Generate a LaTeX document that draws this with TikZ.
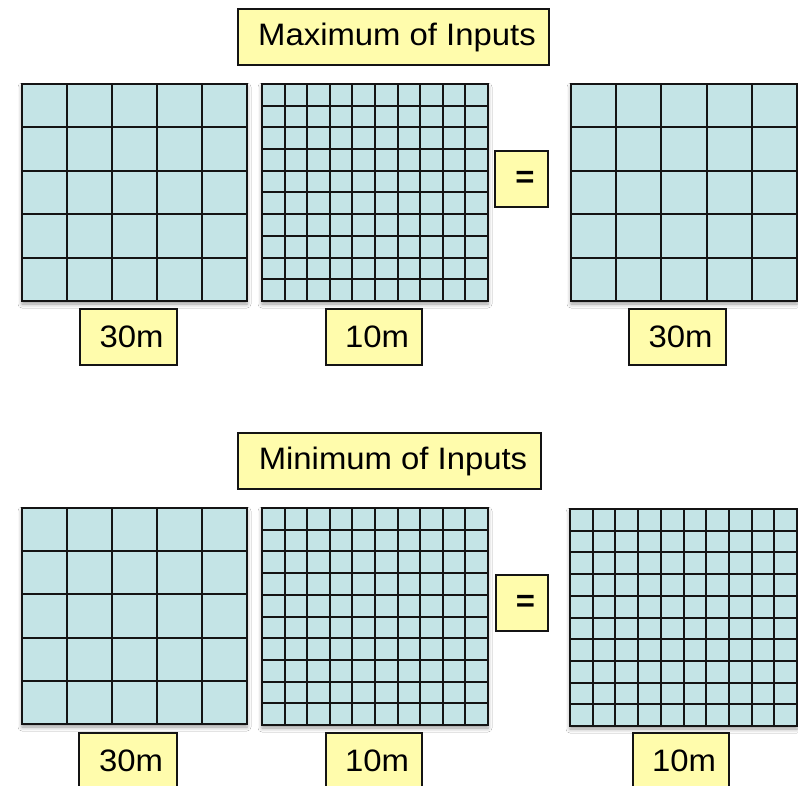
\documentclass[tikz,border=0pt]{standalone}
\usepackage{fontspec}
\setmainfont{Liberation Sans}[FakeStretch=1.06]
\usetikzlibrary{shadows.blur}
\definecolor{cellfill}{RGB}{196,228,230}
\definecolor{labfill}{RGB}{255,252,172}
\definecolor{edgecol}{RGB}{20,20,20}
\tikzset{
  gridbox/.style={fill=cellfill, draw=edgecol, line width=2pt,
    blur shadow={shadow xshift=0pt, shadow yshift=-3pt, shadow blur radius=4pt, shadow opacity=40}},
  gridline/.style={draw=edgecol, line width=2pt},
  labelbox/.style={draw=edgecol, fill=labfill, line width=1.5pt, inner sep=0pt,
    font=\fontsize{31}{31}\selectfont, text=black},
}
\newcommand\cellgrid[5]{%
  \path[gridbox] (#1,#2) rectangle (#3,#4);
  \foreach \k in {1,...,\numexpr#5-1\relax}{%
    \draw[gridline] ({#1+(#3-#1)*\k/#5},#2) -- ({#1+(#3-#1)*\k/#5},#4);
    \draw[gridline] (#1,{#2+(#4-#2)*\k/#5}) -- (#3,{#2+(#4-#2)*\k/#5});
  }%
  \draw[gridline] (#1,#2) rectangle (#3,#4);
}
\begin{document}
\begin{tikzpicture}[x=1pt,y=-1pt]
\clip (0,0) rectangle (798,786);
\fill[white] (0,0) rectangle (798,786);

% ---------- top: maximum ----------
\node[labelbox, minimum width=311pt, minimum height=56pt] (maxtitle) at (393.5,37) {\hspace*{7pt}Maximum of Inputs};
\cellgrid{22}{84}{247}{301}{5}
\cellgrid{262}{84}{488}{301}{10}
\cellgrid{571}{84}{797}{301}{5}
\node[labelbox, minimum width=53pt, minimum height=56pt] (eqtop) at (521.5,179) {\hspace*{7pt}\bfseries =};
\node[labelbox, minimum width=97pt, minimum height=56pt] (ltopa) at (128.5,337) {\hspace*{6pt}30m};
\node[labelbox, minimum width=96pt, minimum height=56pt] (ltopb) at (374,337) {\hspace*{6pt}10m};
\node[labelbox, minimum width=97pt, minimum height=56pt] (ltopc) at (677.5,337) {\hspace*{6pt}30m};

% ---------- bottom: minimum ----------
\node[labelbox, minimum width=303pt, minimum height=56pt] (mintitle) at (389.5,461) {\hspace*{7pt}Minimum of Inputs};
\cellgrid{22}{508}{247}{724}{5}
\cellgrid{262}{508}{488}{725}{10}
\cellgrid{570}{509}{797}{726}{10}
\node[labelbox, minimum width=52pt, minimum height=56pt] (eqbot) at (522,603) {\hspace*{7pt}\bfseries =};
\node[labelbox, minimum width=98pt, minimum height=56pt] (lbota) at (128,761) {\hspace*{6pt}30m};
\node[labelbox, minimum width=96pt, minimum height=56pt] (lbotb) at (374,761) {\hspace*{6pt}10m};
\node[labelbox, minimum width=96pt, minimum height=56pt] (lbotc) at (681,761) {\hspace*{6pt}10m};
\end{tikzpicture}
\end{document}
